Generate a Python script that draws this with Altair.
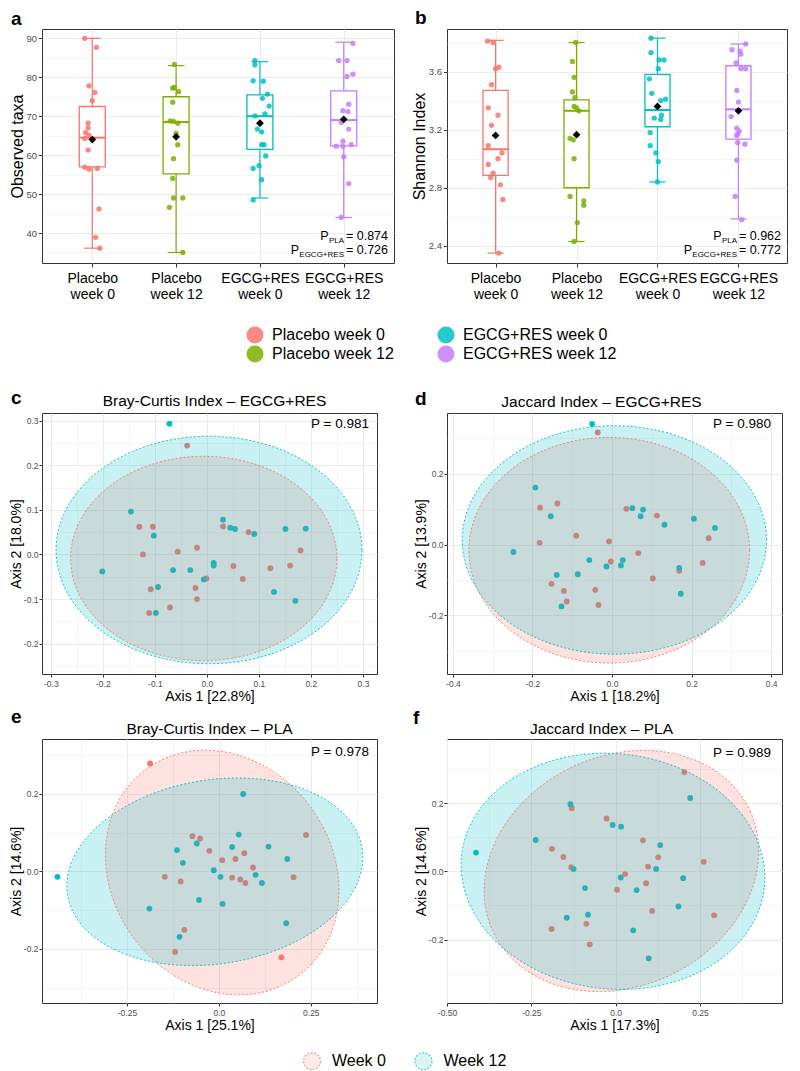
import json
import numpy as np
import pandas as pd
import altair as alt

FONT = "Liberation Sans"
GRID = "#EBEBEB"
FRAME = "#333333"
TICKLAB = "#4D4D4D"

# ---------------- categories / colours ----------------
groups = ["Placebo week 0", "Placebo week 12", "EGCG+RES week 0", "EGCG+RES week 12"]
group_colors = ["#F8766D", "#7CAE00", "#00BFC4", "#C77CFF"]
weeks = ["Week 0", "Week 12"]
week_colors = ["#F8766D", "#00BFC4"]
week_fills = ["#FDE3E1", "#CDF1F2"]

# ---------------- panel a: observed taxa ----------------
obs_pla0 = [90.0, 87.7, 77.8, 76.1, 74.0, 68.2, 67.0, 65.8, 65.1, 64.3, 61.3, 56.9, 56.4, 56.6, 46.2, 38.9, 36.1]
obs_pla0_jit = [-0.09, 0.05, -0.04, 0.03, 0.0, -0.05, -0.05, -0.08, -0.04, -0.09, -0.05, -0.09, -0.04, 0.06, 0.08, 0.04, 0.09]
obs_pla12 = [83.3, 77.2, 77.4, 76.3, 73.6, 68.8, 68.7, 68.2, 65.6, 62.7, 59.1, 54.0, 49.0, 49.0, 46.6, 35.0]
obs_pla12_jit = [-0.02, -0.04, -0.02, 0.03, -0.04, -0.07, -0.03, 0.02, 0.0, 0.02, -0.03, -0.04, -0.03, 0.08, -0.08, 0.08]
obs_er0 = [84.3, 83.2, 79.1, 79.0, 75.7, 74.6, 72.6, 70.6, 70.1, 66.7, 66.0, 62.7, 62.7, 59.8, 57.3, 56.6, 53.7, 48.5]
obs_er0_jit = [-0.06, -0.06, -0.08, 0.04, 0.09, 0.03, 0.11, 0.06, -0.06, -0.03, 0.02, 0.02, 0.05, 0.07, -0.01, -0.08, 0.02, -0.08]
obs_er12 = [88.7, 84.3, 84.3, 80.8, 80.2, 73.1, 71.4, 71.2, 68.4, 66.7, 63.6, 62.3, 62.3, 62.7, 59.6, 52.7, 44.0]
obs_er12_jit = [0.11, -0.06, 0.04, 0.11, 0.04, 0.06, -0.01, 0.05, -0.03, 0.06, -0.01, -0.09, -0.01, 0.09, 0.0, 0.06, -0.03]
obs_lo = [36.1, 35.0, 49.0, 44.0]
obs_q1 = [57.0, 55.2, 61.5, 62.4]
obs_med = [64.5, 68.5, 70.0, 69.0]
obs_q3 = [72.5, 75.0, 75.5, 76.5]
obs_hi = [90.0, 83.0, 84.0, 89.0]
obs_mean = [64.0, 64.7, 68.2, 69.2]

# ---------------- panel b: Shannon ----------------
sha_pla0 = [3.81, 3.80, 3.63, 3.62, 3.51, 3.35, 3.30, 3.23, 3.09, 3.04, 3.00, 2.96, 2.90, 2.87, 2.82, 2.72, 2.35]
sha_pla0_jit = [-0.10, -0.03, 0.04, 0.0, -0.05, -0.09, 0.03, -0.05, -0.09, 0.08, 0.03, -0.09, -0.03, -0.06, 0.06, 0.09, 0.04]
sha_pla12 = [3.80, 3.67, 3.56, 3.46, 3.42, 3.36, 3.35, 3.33, 3.14, 3.13, 3.00, 2.74, 2.71, 2.68, 2.56, 2.43]
sha_pla12_jit = [-0.01, -0.05, -0.03, -0.05, -0.02, -0.03, 0.0, 0.03, -0.08, -0.04, -0.03, -0.08, 0.09, 0.09, 0.01, -0.03]
sha_er0 = [3.83, 3.73, 3.68, 3.68, 3.62, 3.55, 3.45, 3.40, 3.41, 3.28, 3.27, 3.30, 3.18, 3.09, 3.04, 2.98, 2.84]
sha_er0_jit = [-0.08, -0.08, 0.02, 0.08, 0.01, -0.10, -0.07, 0.04, 0.10, -0.04, 0.04, 0.05, -0.09, -0.09, -0.02, 0.01, 0.0]
sha_er12 = [3.79, 3.75, 3.74, 3.72, 3.66, 3.62, 3.62, 3.47, 3.39, 3.29, 3.21, 3.19, 3.17, 3.16, 3.11, 3.10, 2.99, 2.74, 2.58]
sha_er12_jit = [0.09, -0.08, 0.02, 0.03, -0.03, 0.03, 0.09, -0.02, 0.0, -0.09, -0.02, 0.01, -0.01, -0.02, -0.01, 0.08, -0.02, -0.04, 0.04]
sha_lo = [2.35, 2.43, 2.84, 2.585]
sha_q1 = [2.885, 2.80, 3.22, 3.135]
sha_med = [3.065, 3.33, 3.335, 3.34]
sha_q3 = [3.47, 3.405, 3.58, 3.64]
sha_hi = [3.815, 3.80, 3.83, 3.79]
sha_mean = [3.16, 3.165, 3.36, 3.33]

p_pla = ["0.874", "0.962"]
p_egcg = ["0.726", "0.772"]

# ---------------- PCoA panels ----------------
c_x0 = [-0.038, -0.130, -0.104, -0.123, -0.056, -0.019, -0.108, -0.111, -0.071, -0.022, -0.019, -0.001, 0.031, 0.051, 0.069, 0.080, 0.122, 0.160, 0.180]
c_y0 = [0.244, 0.062, 0.062, 0.000, 0.006, 0.015, -0.078, -0.131, -0.119, -0.075, -0.100, -0.054, 0.063, -0.026, -0.055, 0.050, -0.031, -0.025, 0.009]
c_x12 = [-0.072, -0.146, -0.102, -0.201, -0.094, -0.098, -0.065, -0.032, -0.006, 0.013, 0.013, 0.031, 0.045, 0.054, 0.091, 0.151, 0.190, 0.129, 0.170]
c_y12 = [0.293, 0.096, 0.042, -0.038, -0.073, -0.131, -0.035, -0.035, -0.056, -0.025, -0.019, 0.078, 0.060, 0.057, 0.046, 0.057, 0.058, -0.084, -0.104]

d_x0 = [-0.036, -0.181, -0.1375, -0.182, -0.090, -0.0075, -0.152, -0.121, -0.114, -0.042, -0.034, -0.003, 0.036, 0.066, 0.1025, 0.113, 0.169, 0.228, 0.243]
d_y0 = [0.317, 0.104, 0.116, 0.005, 0.025, 0.009, -0.111, -0.131, -0.161, -0.128, -0.171, -0.048, 0.101, -0.024, -0.096, 0.082, -0.074, -0.052, 0.018]
d_x12 = [-0.050, -0.1925, -0.154, -0.248, -0.139, -0.086, -0.127, -0.057, -0.014, 0.0225, 0.027, 0.051, 0.072, 0.078, 0.132, 0.206, 0.259, 0.169, 0.173]
d_y12 = [0.341, 0.161, 0.080, -0.021, -0.086, -0.084, -0.175, -0.044, -0.062, -0.059, -0.044, 0.103, 0.080, 0.099, 0.056, 0.073, 0.047, -0.066, -0.139]

e_x0 = [-0.187, -0.072, -0.051, -0.026, -0.147, -0.104, -0.094, -0.119, 0.009, 0.045, 0.069, 0.036, 0.058, 0.072, 0.093, 0.203, 0.237, 0.170]
e_y0 = [0.279, 0.091, 0.085, 0.053, -0.014, -0.026, -0.151, -0.208, 0.029, 0.032, 0.047, -0.016, -0.021, -0.030, 0.010, -0.015, 0.094, -0.222]
e_x12 = [-0.439, 0.066, -0.114, -0.098, -0.060, 0.036, 0.054, -0.014, 0.0045, 0.100, 0.117, 0.135, 0.186, -0.054, 0.010, -0.189, -0.107, 0.183]
e_y12 = [-0.014, 0.200, 0.055, 0.022, 0.072, 0.063, 0.095, 0.003, -0.014, -0.009, -0.030, 0.064, 0.032, -0.074, -0.084, -0.096, -0.169, -0.134]

f_x0 = [0.2035, -0.130, -0.027, -0.189, -0.155, -0.132, -0.190, -0.087, -0.077, 0.004, 0.028, 0.081, 0.096, 0.090, 0.126, 0.108, 0.261, 0.292]
f_y0 = [0.291, 0.185, 0.155, 0.066, 0.042, 0.012, -0.169, -0.154, -0.214, -0.054, -0.008, 0.091, 0.014, -0.035, 0.041, -0.116, 0.028, -0.129]
f_x12 = [-0.414, -0.237, -0.134, -0.009, 0.016, -0.125, -0.091, -0.082, -0.145, 0.015, 0.062, 0.052, 0.098, 0.120, 0.132, 0.186, 0.200, 0.221]
f_y12 = [0.055, 0.092, 0.197, 0.136, 0.131, 0.007, -0.049, -0.127, -0.136, -0.018, -0.055, -0.173, -0.255, 0.007, 0.077, -0.103, -0.020, 0.215]

# confidence ellipses: centre x, centre y, semi-axis a, semi-axis b, angle (deg)
c_ell = [(-0.006, -0.009, 0.256, 0.229, 0.0), (0.004, 0.010, 0.294, 0.255, 0.0)]
d_ell = [(-0.007, -0.016, 0.353, 0.319, 0.0), (0.006, 0.013, 0.3825, 0.323, 0.0)]
e_ell = [(0.009, -0.003, 0.339, 0.293, -44.0), (-0.011, -0.001, 0.405, 0.238, 8.0)]
f_ell = [(0.017, 0.001, 0.420, 0.338, 24.5), (-0.008, 0.000, 0.451, 0.345, -5.8)]

pcoa_titles = ["Bray-Curtis Index \u2013 EGCG+RES", "Jaccard Index \u2013 EGCG+RES",
               "Bray-Curtis Index \u2013 PLA", "Jaccard Index \u2013 PLA"]
pcoa_xtitles = ["Axis 1 [22.8%]", "Axis 1 [18.2%]", "Axis 1 [25.1%]", "Axis 1 [17.3%]"]
pcoa_ytitles = ["Axis 2 [18.0%]", "Axis 2 [13.9%]", "Axis 2 [14.6%]", "Axis 2 [14.6%]"]
pcoa_p = ["0.981", "0.980", "0.978", "0.989"]
letters = ["a", "b", "c", "d", "e", "f"]


def q_axis(majors, labels, minors, **kw):
    mj = json.dumps(majors)
    lb = json.dumps(labels)
    minor_test = f"indexof({mj}, datum.value) < 0"
    return alt.Axis(
        values=sorted(majors + minors),
        labelExpr=f"{minor_test} ? '' : {lb}[indexof({mj}, datum.value)]",
        grid=True, gridColor=GRID,
        gridWidth={"condition": {"test": minor_test, "value": 0.5}, "value": 1},
        tickOpacity={"condition": {"test": minor_test, "value": 0}, "value": 1},
        domain=False, labelOverlap=False, labelFlush=False,
        tickColor=FRAME, tickWidth=1, labelColor=TICKLAB, titleColor="black",
        titleFontWeight="normal", labelFont=FONT, titleFont=FONT, **kw)


def txt(text, x, y, size, align="right", weight="normal"):
    return alt.Chart(pd.DataFrame({"t": [text]})).mark_text(
        align=align, baseline="alphabetic", fontSize=size, font=FONT,
        color="black", fontWeight=weight).encode(
        x=alt.value(x), y=alt.value(y), text="t:N")


def box_panel(vals, jits, st, ydom, ymaj, ylab, ymin, ytitle, W, H, letter, lxy, pp, pe, legend):
    rows = []
    for gi, (vv, jj) in enumerate(zip(vals, jits)):
        for v, j in zip(vv, jj):
            rows.append({"group": groups[gi], "xj": gi + 1 + j, "v": v})
    dpts = pd.DataFrame(rows)
    dst = pd.DataFrame({"group": groups, "pos": [1, 2, 3, 4], "lo": st[0], "q1": st[1],
                        "med": st[2], "q3": st[3], "hi": st[4], "mean": st[5]})
    dst["bl"] = dst["pos"] - 0.155
    dst["br"] = dst["pos"] + 0.155
    dst["cl"] = dst["pos"] - 0.1
    dst["cr"] = dst["pos"] + 0.1

    xs = alt.Scale(domain=[0.4, 4.6], nice=False, zero=False)
    ys = alt.Scale(domain=ydom, nice=False, zero=False)
    lines = json.dumps([[g.split(" week ")[0], "week " + g.split(" week ")[1]] for g in groups])
    xaxis = alt.Axis(values=[1, 2, 3, 4], labelExpr=f"{lines}[round(datum.value) - 1]",
                     labelFontSize=14, labelColor="black", labelLineHeight=16, labelPadding=4,
                     tickSize=4, tickColor=FRAME, grid=True, gridColor=GRID, domain=False,
                     labelOverlap=False, labelFlush=False, labelFont=FONT)
    yaxis = q_axis(ymaj, ylab, ymin, titleFontSize=16, labelFontSize=9.5, tickSize=3.5,
                   labelPadding=2, titlePadding=0.5)

    def X(f):
        return alt.X(f, type="quantitative", scale=xs, axis=xaxis, title=None)

    def Y(f):
        return alt.Y(f, type="quantitative", scale=ys, axis=yaxis, title=ytitle)

    # stroke scale listed in reverse order so that its legend (disabled) never merges with the colour legend
    strk = alt.Stroke("group:N", scale=alt.Scale(domain=groups[::-1], range=group_colors[::-1]),
                      legend=None)
    base = alt.Chart(dst)
    whisk = base.mark_rule(strokeWidth=1.2).encode(x=X("pos"), y=Y("lo"), y2="hi", stroke=strk)
    caps = base.transform_fold(["lo", "hi"], as_=["k", "cv"]).mark_rule(strokeWidth=1.2).encode(
        x=X("cl"), x2="cr", y=Y("cv"), stroke=strk)
    box = base.mark_rect(fill="white", strokeWidth=1.3).encode(
        x=X("bl"), x2="br", y=Y("q1"), y2="q3", stroke=strk)
    med = base.mark_rule(strokeWidth=2).encode(x=X("bl"), x2="br", y=Y("med"), stroke=strk)
    if legend:
        leg = alt.Legend(orient="none", legendX=204.5, legendY=297.5, columns=2, title=None,
                         symbolType="circle", symbolSize=289, symbolStrokeWidth=0,
                         labelFontSize=16, labelFont=FONT, labelColor="black", labelOffset=8.5,
                         columnPadding=43, rowPadding=2, labelLimit=300)
    else:
        leg = None
    pts = alt.Chart(dpts).mark_circle(size=28, opacity=0.85).encode(
        x=X("xj"), y=Y("v"),
        color=alt.Color("group:N", scale=alt.Scale(domain=groups, range=group_colors), legend=leg))
    mean = base.mark_point(shape="diamond", filled=True, size=60, color="black", opacity=1).encode(
        x=X("pos"), y=Y("mean"))
    texts = [
        txt("= " + pp, W - 6, H - 23, 12.5),
        txt("PLA", W - 50, H - 20, 8),
        txt("P", W - 65.5, H - 23, 12.5),
        txt("= " + pe, W - 6, H - 9, 12.5),
        txt("EGCG+RES", W - 50, H - 6, 8),
        txt("P", W - 95, H - 9, 12.5),
        txt(letter, lxy[0], lxy[1], 19, align="left", weight="bold"),
    ]
    return alt.layer(whisk, caps, box, med, pts, mean, *texts).properties(width=W, height=H)


def ellipse_frames(ells):
    arows, lrows = [], []
    for wk, (cx, cy, a, b, th) in zip(weeks, ells):
        t = np.deg2rad(th)
        c, s = np.cos(t), np.sin(t)
        A = c * c / a ** 2 + s * s / b ** 2
        B = 2 * s * c * (1 / a ** 2 - 1 / b ** 2)
        C = s * s / a ** 2 + c * c / b ** 2
        D = 4 * A * C - B * B
        dxm = np.sqrt(4 * C / D)
        for k, u in enumerate(np.linspace(np.pi, 0, 181)):
            dx = dxm * np.cos(u)
            r = np.sqrt(max(4 * C - dx * dx * D, 0.0))
            arows.append({"week": wk, "x": cx + dx, "yt": cy + (-B * dx + r) / (2 * C),
                          "yb": cy + (-B * dx - r) / (2 * C), "i": k})
        for k, u in enumerate(np.linspace(0, 2 * np.pi, 241)):
            px, py = a * np.cos(u), b * np.sin(u)
            lrows.append({"week": wk, "x": cx + px * c - py * s, "y": cy + px * s + py * c, "i": k})
    return pd.DataFrame(arows), pd.DataFrame(lrows)


def pcoa_panel(x0, y0, x12, y12, ells, xdom, ydom, xmaj, xlab, xmin, ymaj, ylab, ymin,
               xtitle, ytitle, title, txy, letter, lxy, pval, pxy, W, H, legend=False):
    xs = alt.Scale(domain=xdom, nice=False, zero=False)
    ys = alt.Scale(domain=ydom, nice=False, zero=False)
    xaxis = q_axis(xmaj, xlab, xmin, labelFontSize=8.5, tickSize=3, labelPadding=2,
                   titleFontSize=14, titlePadding=2)
    yaxis = q_axis(ymaj, ylab, ymin, labelFontSize=8.5, tickSize=3, labelPadding=1,
                   titleFontSize=14, titlePadding=0)

    def X(f):
        return alt.X(f, type="quantitative", scale=xs, axis=xaxis, title=xtitle)

    def Y(f, **kw):
        return alt.Y(f, type="quantitative", scale=ys, axis=yaxis, title=ytitle, **kw)

    # colour scale listed in reverse order so that its (disabled) legend does not merge with the week legend
    col = alt.Color("week:N", scale=alt.Scale(domain=weeks[::-1], range=week_colors[::-1]), legend=None)
    dp = pd.DataFrame({"week": [weeks[0]] * len(x0) + [weeks[1]] * len(x12),
                       "x": x0 + x12, "y": y0 + y12})
    da, dl = ellipse_frames(ells)
    pts = alt.Chart(dp).mark_circle(size=34, opacity=1).encode(x=X("x"), y=Y("y"), color=col)
    area = alt.Chart(da).mark_area(fillOpacity=0.21, clip=True).encode(
        x=X("x"), y=Y("yt", stack=None), y2="yb", color=col, detail="week:N")
    line = alt.Chart(dl).mark_line(strokeDash=[2, 2], strokeWidth=0.9, clip=True).encode(
        x=X("x"), y=Y("y"), color=col, order="i:Q")
    layers = [pts, area, line,
              txt("P = " + pval, pxy[0], pxy[1], 13.5),
              txt(title, txy[0], txy[1], 15.5, align="center"),
              txt(letter, lxy[0], lxy[1], 19, align="left", weight="bold")]
    if legend:
        L = alt.Legend(orient="none", legendX=260.5, legendY=312.5, direction="horizontal",
                       title=None, symbolType="circle", symbolSize=289, symbolStrokeWidth=1.2,
                       symbolDash=[2, 1.5], labelFontSize=16, labelFont=FONT, labelColor="black",
                       labelOffset=10.5, columnPadding=25.5, labelLimit=200)
        leg_layer = alt.Chart(pd.DataFrame({"week": weeks})).mark_point(
            shape="circle", filled=True, clip=True).encode(
            x=alt.value(-60), y=alt.value(-60),
            fill=alt.Fill("week:N", scale=alt.Scale(domain=weeks, range=week_fills), legend=L),
            stroke=alt.Stroke("week:N", scale=alt.Scale(domain=weeks, range=week_colors), legend=L))
        layers.append(leg_layer)
    return alt.layer(*layers).properties(width=W, height=H)


WA, WB, WP = 352, 340, 335
H1, H2, H3 = 234, 261, 264

pa = box_panel([obs_pla0, obs_pla12, obs_er0, obs_er12],
               [obs_pla0_jit, obs_pla12_jit, obs_er0_jit, obs_er12_jit],
               [obs_lo, obs_q1, obs_med, obs_q3, obs_hi, obs_mean],
               [32.3, 92.4], [40, 50, 60, 70, 80, 90], ["40", "50", "60", "70", "80", "90"],
               [35, 45, 55, 65, 75, 85], "Observed taxa", WA, H1, letters[0], (-31, -4),
               p_pla[0], p_egcg[0], True)
pb = box_panel([sha_pla0, sha_pla12, sha_er0, sha_er12],
               [sha_pla0_jit, sha_pla12_jit, sha_er0_jit, sha_er12_jit],
               [sha_lo, sha_q1, sha_med, sha_q3, sha_hi, sha_mean],
               [2.282, 3.893], [2.4, 2.8, 3.2, 3.6], ["2.4", "2.8", "3.2", "3.6"],
               [2.6, 3.0, 3.4, 3.8], "Shannon Index", WB, H1, letters[1], (-32, -5),
               p_pla[1], p_egcg[1], False)

pc = pcoa_panel(c_x0, c_y0, c_x12, c_y12, c_ell, [-0.317, 0.327], [-0.268, 0.317],
                [-0.3, -0.2, -0.1, 0.0, 0.1, 0.2, 0.3], ["-0.3", "-0.2", "-0.1", "0.0", "0.1", "0.2", "0.3"],
                [-0.25, -0.15, -0.05, 0.05, 0.15, 0.25],
                [-0.2, -0.1, 0.0, 0.1, 0.2, 0.3], ["-0.2", "-0.1", "0.0", "0.1", "0.2", "0.3"],
                [-0.25, -0.15, -0.05, 0.05, 0.15, 0.25],
                pcoa_xtitles[0], pcoa_ytitles[0], pcoa_titles[0], (WP / 2 + 5, -7), letters[2], (-31, -9),
                pcoa_p[0], (WP - 8, 15), WP, H2)
pd_ = pcoa_panel(d_x0, d_y0, d_x12, d_y12, d_ell, [-0.415, 0.4275], [-0.366, 0.372],
                 [-0.4, -0.2, 0.0, 0.2, 0.4], ["-0.4", "-0.2", "0.0", "0.2", "0.4"],
                 [-0.3, -0.1, 0.1, 0.3],
                 [-0.2, 0.0, 0.2], ["-0.2", "0.0", "0.2"], [-0.3, -0.1, 0.1, 0.3],
                 pcoa_xtitles[1], pcoa_ytitles[1], pcoa_titles[1], (WP / 2 - 13, -6), letters[3], (-32, -8),
                 pcoa_p[1], (WP - 11, 15), WP, H2)
pe = pcoa_panel(e_x0, e_y0, e_x12, e_y12, e_ell, [-0.481, 0.43], [-0.340, 0.342],
                [-0.25, 0.0, 0.25], ["-0.25", "0.0", "0.25"], [-0.375, -0.125, 0.125, 0.375],
                [-0.2, 0.0, 0.2], ["-0.2", "0.0", "0.2"], [-0.3, -0.1, 0.1, 0.3],
                pcoa_xtitles[2], pcoa_ytitles[2], pcoa_titles[2], (WP / 2, -5), letters[4], (-31, -16),
                pcoa_p[2], (WP - 8, 17), WP, H3, legend=True)
pf = pcoa_panel(f_x0, f_y0, f_x12, f_y12, f_ell, [-0.5, 0.493], [-0.386, 0.388],
                [-0.5, -0.25, 0.0, 0.25], ["-0.50", "-0.25", "0.0", "0.25"], [-0.375, -0.125, 0.125, 0.375],
                [-0.2, 0.0, 0.2], ["-0.2", "0.0", "0.2"], [-0.3, -0.1, 0.1, 0.3],
                pcoa_xtitles[3], pcoa_ytitles[3], pcoa_titles[3], (WP / 2 - 13, -5), letters[5], (-34, -15),
                pcoa_p[3], (WP - 11, 18), WP, H3)


def spacer():
    return alt.Chart(pd.DataFrame({"s": [0]})).mark_text(text="").encode(
        x=alt.value(0), y=alt.value(0)).properties(
        width=10, height=20, view=alt.ViewBackground(stroke="transparent"))


chart = alt.concat(pa, pb, spacer(), spacer(), pc, pd_, pe, pf, columns=2,
                   spacing={"row": 65, "column": 53}, bounds="flush", align="each")
chart = chart.resolve_scale(color="independent", fill="independent", stroke="independent")
chart = chart.properties(padding=0)
chart = chart.configure(font=FONT).configure_view(stroke=FRAME, strokeWidth=1)

chart.save("out.html", embed_options={"renderer": "svg", "actions": False})
